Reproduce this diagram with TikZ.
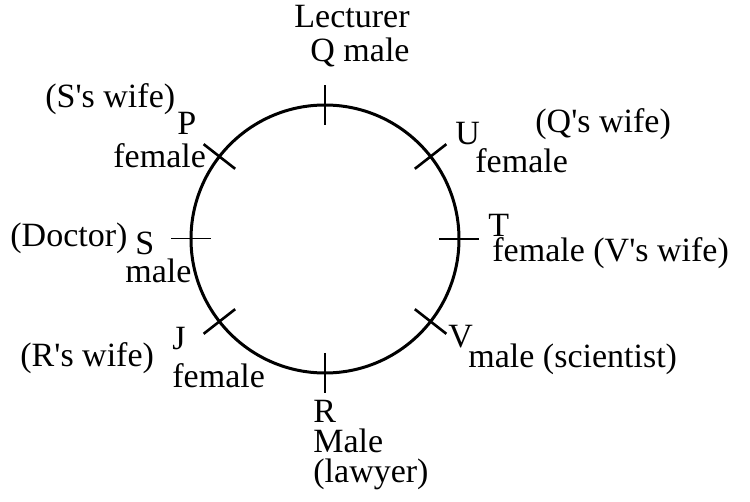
\documentclass[tikz,border=0pt]{standalone}
\usepackage{fontspec}
\setmainfont{Liberation Serif}
\usepackage{tikz}
\usetikzlibrary{positioning}

\begin{document}
\begin{tikzpicture}[
  x=0.5pt, y=0.5pt,
  lb/.style={inner sep=0pt, anchor=base west, font=\fontsize{17}{20}\selectfont},
  lbr/.style={lb, anchor=base east},
  ring/.style={line width=1.5pt},
  tk/.style={line width=1.3pt},
  thin tk/.style={line width=0.5pt}
]
\useasboundingbox (-325,-263) rectangle (425,239);
\coordinate (c) at (0,0);
\draw[ring] (c) circle[radius=134];
\foreach \a in {90,38,0,-38,-90,-142,142}
  \draw[tk] (\a:114) -- (\a:154);
\draw[thin tk] (180:114) -- (180:154);

\node[lbr] (lect)  at (85,211)    {Lecturer};
\node[lbr] (qmale) at (85,177)    {Q male};
\node[lb]  (pwife) at (-280,131)  {(S\textquotesingle s wife)};
\node[lb]  (pname) at (-148,104)  {P};
\node[lb]  (pfem)  at (-212,71)   {female};
\node[lb]  (doc)   at (-315,-8)   {(Doctor)};
\node[lb]  (sname) at (-190,-16)  {S};
\node[lb]  (smale) at (-200,-44)  {male};
\node[lb]  (jname) at (-153,-111) {J};
\node[lb]  (rwife) at (-305,-128) {(R\textquotesingle s wife)};
\node[lb]  (jfem)  at (-153,-149) {female};
\node[lb]  (rname) at (-12,-184)  {R};
\node[lb]  (rmale) at (-12,-214)  {Male};
\node[lb]  (rlaw)  at (-12,-244)  {(lawyer)};
\node[lb]  (uname) at (130,94)    {U};
\node[lb]  (ufem)  at (150,66)    {female};
\node[lb]  (qwife) at (210,106)   {(Q\textquotesingle s wife)};
\node[lb]  (tname) at (163,2)     {T};
\node[lb]  (tfem)  at (167,-23)   {female (V\textquotesingle s wife)};
\node[lb]  (vname) at (123,-109)  {V};
\node[lb]  (vmale) at (143,-129)  {male (scientist)};
\end{tikzpicture}
\end{document}
